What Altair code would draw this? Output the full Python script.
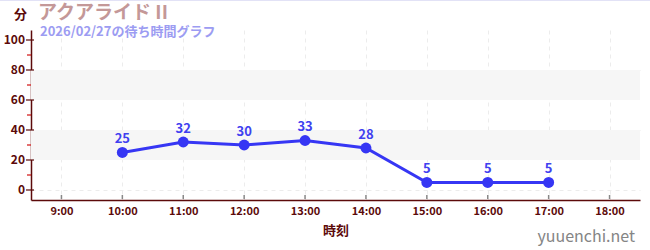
import altair as alt
import pandas as pd

# Wait times per hour
hours = [10, 11, 12, 13, 14, 15, 16, 17]
waits = [25, 32, 30, 33, 28, 5, 5, 5]

x_ticks = [9, 10, 11, 12, 13, 14, 15, 16, 17, 18]
y_major = [0, 20, 40, 60, 80, 100]
y_minor = [10, 30, 50, 70, 90]
bands_lo = [20, 60]
bands_hi = [40, 80]

title_text = "アクアライド II"
subtitle_text = "2026/02/27の待ち時間グラフ"
y_unit = "分"
x_title = "時刻"
site = "yuuenchi.net"

FONT = "Noto Sans CJK JP"
MAROON = "#5c0a0a"
BLUE = "#3636f4"

df = pd.DataFrame({"hour": hours, "wait": waits})
bands = pd.DataFrame({"lo": bands_lo, "hi": bands_hi})
xt = pd.DataFrame({"hour": x_ticks})
ymaj = pd.DataFrame({"v": y_major})
ymin = pd.DataFrame({"v": y_minor})

xscale = alt.Scale(domain=[8.5, 18.5], nice=False, zero=False)
yscale = alt.Scale(domain=[-6.67, 106.67], nice=False, zero=False)

xaxis = alt.Axis(
    values=x_ticks, labelExpr="datum.value + ':00'", ticks=False,
    domainColor=MAROON, domainWidth=1.5, labelColor=MAROON, labelFont=FONT,
    labelFontSize=11, labelFontWeight="bold", labelPadding=5, labelOverlap=False,
    grid=True, gridDash=[4, 4], gridColor="#ececec",
    title=x_title, titleColor=MAROON, titleFont=FONT, titleFontSize=13,
    titleFontWeight="bold", titlePadding=8,
)
# y labels are drawn by a text layer below, the axis keeps line and grid
yaxis = alt.Axis(
    values=y_major, ticks=False, labels=False, domainColor=MAROON, domainWidth=1.5,
    grid=True, gridDash=[4, 4], gridColor="#ececec", title=None,
)

X = lambda f: alt.X(f, scale=xscale)
Y = lambda f: alt.Y(f, scale=yscale)

axis_layer = alt.Chart(df).mark_point(opacity=0).encode(
    x=alt.X("hour:Q", scale=xscale, axis=xaxis),
    y=alt.Y("wait:Q", scale=yscale, axis=yaxis),
)

band_layer = alt.Chart(bands).mark_rect(color="#f6f6f6").encode(
    x=alt.value(0), x2=alt.value(609), y=Y("lo:Q"), y2="hi:Q",
)

xtick_layer = alt.Chart(xt).mark_rule(color="#888888", strokeWidth=1.5).encode(
    x=X("hour:Q"), y=alt.value(165), y2=alt.value(169),
)
ymaj_layer = alt.Chart(ymaj).mark_rule(color=MAROON, strokeWidth=1.2).encode(
    y=Y("v:Q"), x=alt.value(-5), x2=alt.value(3),
)
ymin_layer = alt.Chart(ymin).mark_rule(color="#d01010", strokeWidth=1.2).encode(
    y=Y("v:Q"), x=alt.value(-4), x2=alt.value(0),
)
ylabel_layer = alt.Chart(ymaj).mark_text(
    color=MAROON, font=FONT, fontSize=12, fontWeight="bold",
    align="right", baseline="middle",
).encode(y=Y("v:Q"), x=alt.value(-6), text="v:Q")

line = alt.Chart(df).mark_line(color=BLUE, strokeWidth=3).encode(
    x=X("hour:Q"), y=Y("wait:Q"),
)
points = alt.Chart(df).mark_circle(color=BLUE, size=120, opacity=1).encode(
    x=X("hour:Q"), y=Y("wait:Q"),
)
labels = alt.Chart(df).mark_text(
    color="#4040f0", font=FONT, fontSize=13, fontWeight="bold",
    baseline="bottom", dy=-6,
).encode(x=X("hour:Q"), y=Y("wait:Q"), text="wait:Q")

top_border = alt.Chart(xt).mark_rule(color="#e2e2f6", strokeWidth=2).encode(
    x=alt.value(-31), x2=alt.value(619), y=alt.value(-30),
)

def note(text, x, y, color, size, align="left", weight="bold"):
    return alt.Chart(pd.DataFrame({"t": [text]})).mark_text(
        color=color, font=FONT, fontSize=size, fontWeight=weight,
        align=align, baseline="alphabetic",
    ).encode(x=alt.value(x), y=alt.value(y), text="t:N")

title_layer = note(title_text, 7, -11, "#c49898", 19)
subtitle_layer = note(subtitle_text, 9, 6, "#9c9cf2", 13)
unit_layer = note(y_unit, -17, -11, MAROON, 13)
site_layer = note(site, 604, 212, "#858585", 16, align="right", weight="normal")

chart = alt.layer(
    axis_layer, band_layer, xtick_layer, ymaj_layer, ymin_layer, ylabel_layer,
    line, points, labels, top_border,
    title_layer, subtitle_layer, unit_layer, site_layer,
).properties(
    width=609, height=170,
    autosize=alt.AutoSizeParams(type="none"),
    padding={"left": 31, "top": 30, "right": 10, "bottom": 50},
    background="white",
).configure_view(stroke=None)

chart.save("out.html", embed_options={"renderer": "svg", "actions": False})
